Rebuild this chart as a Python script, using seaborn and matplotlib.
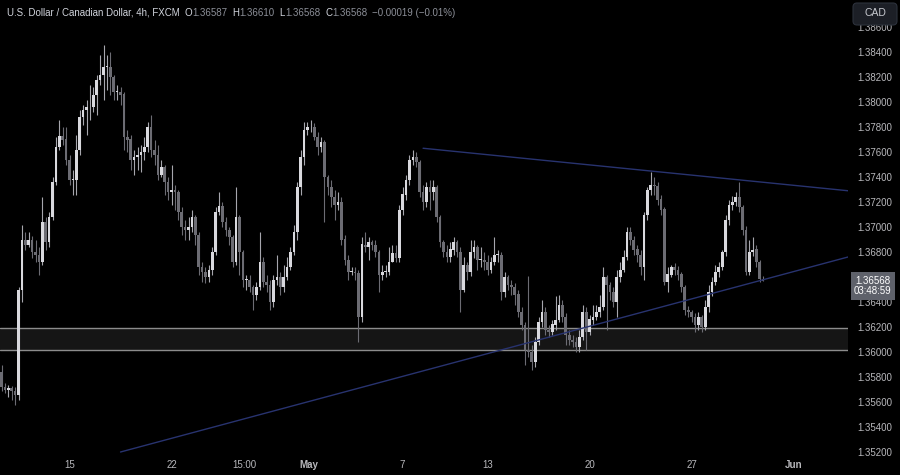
import numpy as np
import pandas as pd
import seaborn as sns
import matplotlib.pyplot as plt
import matplotlib.transforms as mtransforms
from matplotlib.patches import FancyBboxPatch

# USD/CAD 4h candles, oldest first (open = previous close)
first_open = 1.3584
closes = [
    1.3572, 1.3570, 1.3571, 1.3569, 1.3566, 1.3650, 1.3690, 1.3686, 1.3690, 1.3680, 1.3678, 1.3672, 1.3704, 1.3688, 1.3708,
    1.3736, 1.3764, 1.3773, 1.3770, 1.3754, 1.3738, 1.3738, 1.3762, 1.3788, 1.3794, 1.3796, 1.3796, 1.3806, 1.3818, 1.3822,
    1.3828, 1.3828, 1.3820, 1.3808, 1.3808, 1.3806, 1.3772, 1.3770, 1.3754, 1.3756, 1.3758, 1.3760, 1.3764, 1.3780,
    1.3762, 1.3758, 1.3742, 1.3748, 1.3736, 1.3728, 1.3730, 1.3728, 1.3712, 1.3700, 1.3698, 1.3700, 1.3708, 1.3694, 1.3668,
    1.3664, 1.3660, 1.3666, 1.3680, 1.3712, 1.3717, 1.3704, 1.3698, 1.3692, 1.3672, 1.3708, 1.3680, 1.3658, 1.3658, 1.3652,
    1.3646, 1.3652, 1.3672, 1.3656, 1.3654, 1.3640, 1.3658, 1.3660, 1.3652, 1.3660, 1.3668, 1.3680, 1.3696, 1.3732, 1.3756, 1.3778,
    1.3780, 1.3780, 1.3772, 1.3764, 1.3768, 1.3740, 1.3732, 1.3724, 1.3718, 1.3720, 1.3690, 1.3674, 1.3664, 1.3664, 1.3663,
    1.3628, 1.3686, 1.3684, 1.3688, 1.3686, 1.3680, 1.3662, 1.3664, 1.3664, 1.3672, 1.3679, 1.3675, 1.3714, 1.3726, 1.3738,
    1.3754, 1.3756, 1.3752, 1.3728, 1.3720, 1.3732, 1.3728, 1.3732, 1.3708, 1.3688, 1.3680, 1.3676, 1.3682, 1.3688, 1.3680, 1.3650,
    1.3670, 1.3664, 1.3680, 1.3684, 1.3674, 1.3674, 1.3672, 1.3666, 1.3672, 1.3678, 1.3678, 1.3648, 1.3660, 1.3654, 1.3652,
    1.3646, 1.3632, 1.3622, 1.3602, 1.3600, 1.3592, 1.3608, 1.3624, 1.3632, 1.3618, 1.3616, 1.3622, 1.3626, 1.3638, 1.3628,
    1.3614, 1.3610, 1.3608, 1.3604, 1.3612, 1.3632, 1.3616, 1.3626, 1.3628, 1.3632, 1.3636, 1.3660, 1.3654, 1.3648, 1.3640,
    1.3660, 1.3666, 1.3676, 1.3696, 1.3690, 1.3682, 1.3678, 1.3668, 1.3710, 1.3730, 1.3734, 1.3733, 1.3722, 1.3714, 1.3656,
    1.3662, 1.3668, 1.3666, 1.3662, 1.3652, 1.3634, 1.3632, 1.3628, 1.3622, 1.3628, 1.3620, 1.3636, 1.3648, 1.3656, 1.3664,
    1.3668, 1.3680, 1.3706, 1.3718, 1.3720, 1.3724, 1.3716, 1.3698, 1.3664, 1.3680, 1.3682, 1.3672, 1.36587, 1.36568,
]
highs = [
    1.3590, 1.3575, 1.3574, 1.3573, 1.3572, 1.3652, 1.3702, 1.3696, 1.3696, 1.3693, 1.3690, 1.3684, 1.3724, 1.3708, 1.3712,
    1.3740, 1.3772, 1.3786, 1.3780, 1.3780, 1.3758, 1.3746, 1.3774, 1.3794, 1.3798, 1.3802, 1.3814, 1.3812, 1.3822, 1.3838,
    1.3846, 1.3838, 1.3840, 1.3822, 1.3814, 1.3812, 1.3808, 1.3778, 1.3774, 1.3762, 1.3764, 1.3766, 1.3772, 1.3784,
    1.3790, 1.3770, 1.3766, 1.3754, 1.3750, 1.3740, 1.3750, 1.3734, 1.3730, 1.3716, 1.3706, 1.3708, 1.3714, 1.3710, 1.3696,
    1.3672, 1.3668, 1.3670, 1.3684, 1.3716, 1.3728, 1.3720, 1.3708, 1.3700, 1.3694, 1.3732, 1.3710, 1.3682, 1.3662, 1.3662,
    1.3654, 1.3656, 1.3696, 1.3676, 1.3662, 1.3658, 1.3662, 1.3678, 1.3664, 1.3670, 1.3676, 1.3684, 1.3702, 1.3736, 1.3762, 1.3784,
    1.3784, 1.3786, 1.3783, 1.3776, 1.3772, 1.3770, 1.3742, 1.3738, 1.3730, 1.3728, 1.3724, 1.3694, 1.3678, 1.3668, 1.3668,
    1.3666, 1.3692, 1.3696, 1.3692, 1.3690, 1.3690, 1.3682, 1.3670, 1.3670, 1.3684, 1.3686, 1.3686, 1.3718, 1.3732, 1.3742,
    1.3758, 1.3762, 1.3760, 1.3754, 1.3734, 1.3736, 1.3738, 1.3738, 1.3734, 1.3710, 1.3690, 1.3686, 1.3688, 1.3692, 1.3690, 1.3684,
    1.3676, 1.3672, 1.3690, 1.3690, 1.3686, 1.3684, 1.3680, 1.3678, 1.3676, 1.3692, 1.3682, 1.3680, 1.3664, 1.3662, 1.3658,
    1.3655, 1.3650, 1.3636, 1.3624, 1.3661, 1.3606, 1.3612, 1.3628, 1.3642, 1.3636, 1.3622, 1.3626, 1.3645, 1.3646, 1.3642,
    1.3631, 1.3618, 1.3614, 1.3612, 1.3618, 1.3638, 1.3636, 1.3630, 1.3638, 1.3638, 1.3646, 1.3668, 1.3662, 1.3656, 1.3652,
    1.3666, 1.3672, 1.3682, 1.3700, 1.3700, 1.3693, 1.3686, 1.3682, 1.3712, 1.3732, 1.3744, 1.3740, 1.3736, 1.3726, 1.3716,
    1.3668, 1.3670, 1.3671, 1.3669, 1.3664, 1.3654, 1.3637, 1.3634, 1.3631, 1.3632, 1.3630, 1.3642, 1.3654, 1.3660, 1.3670,
    1.3672, 1.3682, 1.3710, 1.3722, 1.3725, 1.3728, 1.3736, 1.3718, 1.3701, 1.3690, 1.3692, 1.3686, 1.3674, 1.36610,
]
lows = [
    1.3569, 1.3567, 1.3564, 1.3562, 1.3558, 1.3562, 1.3640, 1.3682, 1.3684, 1.3675, 1.3672, 1.3662, 1.3670, 1.3682, 1.3684,
    1.3706, 1.3734, 1.3762, 1.3766, 1.3750, 1.3734, 1.3726, 1.3726, 1.3758, 1.3782, 1.3774, 1.3786, 1.3792, 1.3790, 1.3814,
    1.3802, 1.3810, 1.3806, 1.3802, 1.3802, 1.3798, 1.3762, 1.3760, 1.3746, 1.3742, 1.3746, 1.3744, 1.3754, 1.3760,
    1.3756, 1.3750, 1.3738, 1.3740, 1.3726, 1.3722, 1.3718, 1.3714, 1.3706, 1.3694, 1.3690, 1.3690, 1.3696, 1.3686, 1.3662,
    1.3656, 1.3655, 1.3656, 1.3662, 1.3678, 1.3710, 1.3700, 1.3693, 1.3686, 1.3668, 1.3670, 1.3662, 1.3652, 1.3650, 1.3648,
    1.3634, 1.3642, 1.3650, 1.3652, 1.3648, 1.3634, 1.3636, 1.3654, 1.3646, 1.3648, 1.3658, 1.3666, 1.3678, 1.3690, 1.3726, 1.3750,
    1.3774, 1.3776, 1.3770, 1.3758, 1.3760, 1.3704, 1.3726, 1.3716, 1.3706, 1.3714, 1.3686, 1.3670, 1.3658, 1.3662, 1.3658,
    1.3608, 1.3624, 1.3680, 1.3674, 1.3682, 1.3676, 1.3648, 1.3658, 1.3660, 1.3662, 1.3672, 1.3672, 1.3672, 1.3710, 1.3722,
    1.3734, 1.3750, 1.3748, 1.3724, 1.3714, 1.3716, 1.3714, 1.3722, 1.3704, 1.3684, 1.3676, 1.3672, 1.3672, 1.3678, 1.3676, 1.3632,
    1.3648, 1.3658, 1.3661, 1.3675, 1.3666, 1.3668, 1.3666, 1.3662, 1.3663, 1.3670, 1.3672, 1.3642, 1.3644, 1.3650, 1.3646,
    1.3638, 1.3628, 1.3618, 1.3590, 1.3596, 1.3586, 1.3588, 1.3606, 1.3620, 1.3614, 1.3612, 1.3614, 1.3618, 1.3624, 1.3624,
    1.3606, 1.3606, 1.3604, 1.3600, 1.3600, 1.3610, 1.3602, 1.3614, 1.3622, 1.3626, 1.3628, 1.3634, 1.3618, 1.3642, 1.3636,
    1.3628, 1.3656, 1.3664, 1.3674, 1.3686, 1.3678, 1.3672, 1.3662, 1.3658, 1.3706, 1.3726, 1.3726, 1.3718, 1.3710, 1.3654,
    1.3648, 1.3660, 1.3662, 1.3658, 1.3648, 1.3630, 1.3628, 1.3624, 1.3616, 1.3618, 1.3616, 1.3618, 1.3632, 1.3645, 1.3654,
    1.3660, 1.3666, 1.3677, 1.3702, 1.3714, 1.3717, 1.3712, 1.3694, 1.3662, 1.3662, 1.3677, 1.3668, 1.3656, 1.36568,
]

# x axis: candle index where each date label sits
tick_pos = [20, 50, 71.5, 90.5, 118, 143, 173, 203, 233]
tick_labels = ["15", "22", "15:00", "May", "7", "13", "20", "27", "Jun"]
bold_labels = ["May", "Jun"]
price_ticks = np.arange(1.352, 1.3861, 0.002)

# support zone and triangle lines
zone_low, zone_high = 1.3602, 1.3619
upper_x, upper_y = [124, 249], [1.3763, 1.3729]
lower_x, lower_y = [35, 249], [1.3520, 1.3676]
countdown = "03:48:59"

UP, DOWN = "#d9d9de", "#6c6c73"
UP_WICK, DOWN_WICK = "#a6a6ad", "#6c6c73"
TREND = "#28336f"
TXT = "#b8b8bc"

sns.set_style("dark", {"axes.facecolor": "black", "figure.facecolor": "black"})
plt.rcParams["font.family"] = ["Liberation Sans", "DejaVu Sans"]

df = pd.DataFrame({"close": closes, "high": highs, "low": lows})
df["open"] = [first_open] + closes[:-1]
df["idx"] = np.arange(len(df))
up = df["close"] >= df["open"]

fig = plt.figure(figsize=(9, 4.75), dpi=100)
ax = fig.add_axes([0, 18 / 475, 848 / 900, 457 / 475])
ax.set_facecolor("black")

# zone
ax.axhspan(zone_low, zone_high, color="#151515", zorder=0, lw=0)
for lvl in (zone_low, zone_high):
    ax.axhline(lvl, color="#8c8c8c", lw=1, zorder=1)

# candles
for mask, body, wick in [(up, UP, UP_WICK), (~up, DOWN, DOWN_WICK)]:
    d = df[mask]
    ax.vlines(d["idx"], d["low"], d["high"], color=wick, lw=0.8, zorder=2)
    h = (d["close"] - d["open"]).abs().clip(lower=0.00004)
    ax.bar(d["idx"], h, bottom=d[["open", "close"]].min(axis=1), width=0.8,
           color=body, linewidth=0, zorder=3)

# trend lines
sns.lineplot(x=upper_x, y=upper_y, ax=ax, color=TREND, lw=1, zorder=4)
sns.lineplot(x=lower_x, y=lower_y, ax=ax, color=TREND, lw=1, zorder=4)

ax.set_xlim(-0.45, 249)
ax.set_ylim(1.3516, 1.38816)
ax.yaxis.tick_right()
ax.set_yticks(price_ticks)
ax.set_yticklabels([f"{v:.5f}" for v in price_ticks])
ax.set_xticks(tick_pos)
ax.set_xticklabels(tick_labels)
for lab in ax.get_xticklabels():
    if lab.get_text() in bold_labels:
        lab.set_fontweight("bold")
ax.tick_params(axis="y", length=0, pad=7, labelsize=7, labelcolor=TXT)
ax.tick_params(axis="x", length=0, pad=2.5, labelsize=7, labelcolor=TXT)
ax.grid(False)
for s in ax.spines.values():
    s.set_visible(False)
ax.set_xlabel("")
ax.set_ylabel("")

# last price tag
last = closes[-1]
blend = mtransforms.blended_transform_factory(ax.transAxes, ax.transData)
ax.annotate(f"{last:.5f}\n{countdown}", xy=(1, last), xycoords=blend,
            xytext=(6, -5), textcoords="offset pixels", ha="left", va="center",
            fontsize=7, color="white", linespacing=1.05, multialignment="center",
            bbox=dict(boxstyle="square,pad=0.35", fc="#5e616a", ec="none"),
            annotation_clip=False, zorder=10)

# currency button
fig.add_artist(FancyBboxPatch((8.53, 4.50), 0.44, 0.22, boxstyle="round,pad=0,rounding_size=0.04",
                              transform=fig.dpi_scale_trans, fc="#1c1f26", ec="#2c313b", lw=0.8, zorder=20))
fig.text(8.75 / 9, 1 - 13.5 / 475, "CAD", ha="center", va="center", fontsize=7.5, color="#c8cad0", zorder=21)

# header, laid out piece by piece
change = closes[-1] - closes[-2]
pct = change / closes[-2] * 100
LBL, VAL = "#d1d4dc", "#8c8f98"
header = [
    ("U.S. Dollar / Canadian Dollar, 4h, FXCM", LBL, 5),
    ("O", LBL, 0), (f"{df['open'].iloc[-1]:.5f}", VAL, 5),
    ("H", LBL, 0), (f"{highs[-1]:.5f}", VAL, 5),
    ("L", LBL, 0), (f"{lows[-1]:.5f}", VAL, 5),
    ("C", LBL, 0), (f"{closes[-1]:.5f}", VAL, 5),
    (f"\u2212{abs(change):.5f} (\u2212{abs(pct):.2f}%)", VAL, 0),
]
renderer = fig.canvas.get_renderer()
xp = 7
for txt, col, gap in header:
    t = fig.text(xp / 900, 1 - 12.5 / 475, txt, ha="left", va="center", fontsize=7, color=col)
    xp += t.get_window_extent(renderer).width + gap

fig.savefig("out.png", dpi=100, facecolor="black")
